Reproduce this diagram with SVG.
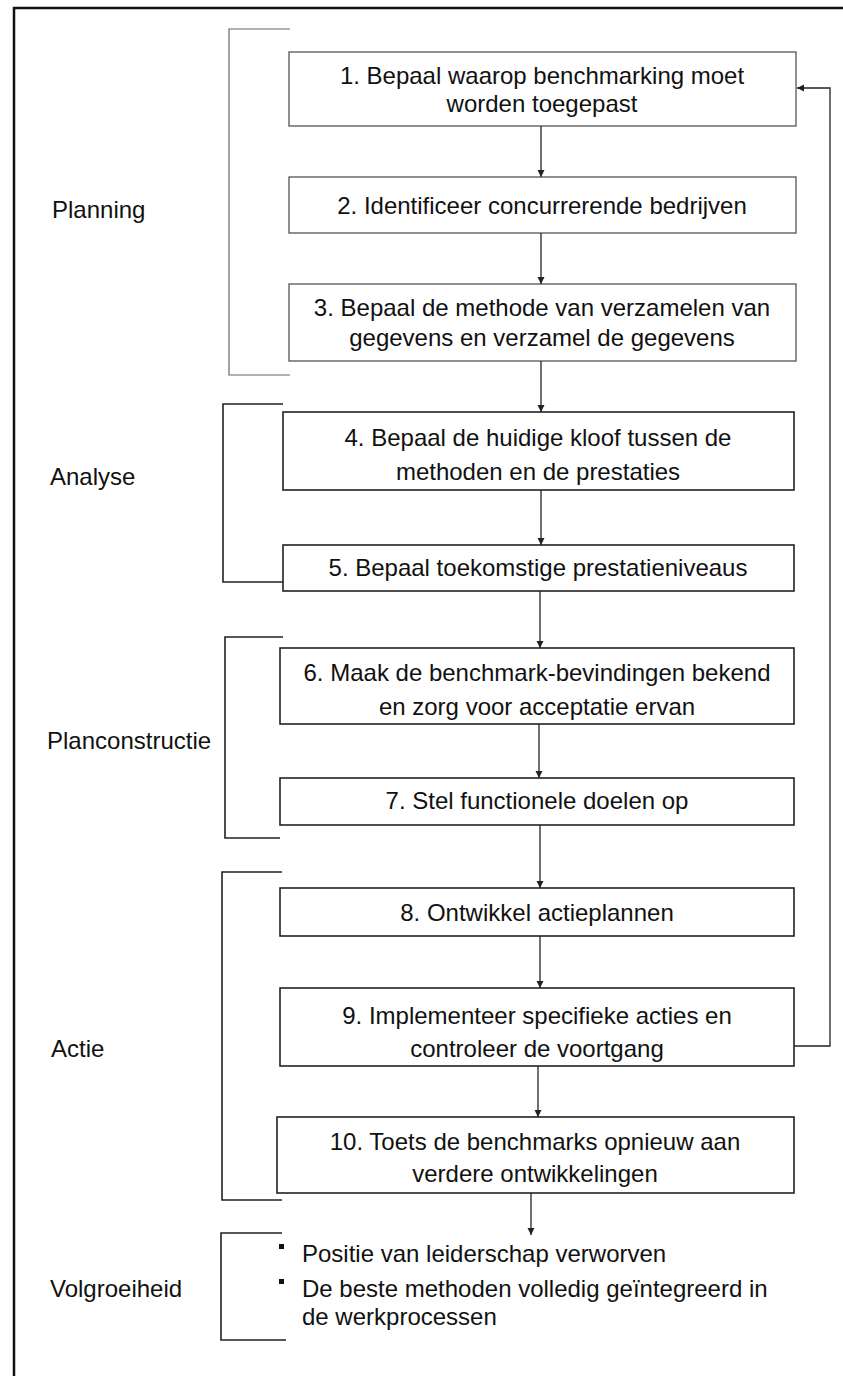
<svg xmlns="http://www.w3.org/2000/svg" width="843" height="1376" viewBox="0 0 843 1376">
  <style>
    text { font-family: "Liberation Sans", Arial, sans-serif; font-size: 24px; fill: #111; }
    .step { text-anchor: middle; }
    .box { fill: #fff; stroke: #222; stroke-width: 1.6; }
    .box.light { stroke: #555; stroke-width: 1.3; }
    .bracket { fill: none; stroke: #222; stroke-width: 1.6; }
    .bracket.light { stroke: #666; stroke-width: 1.2; }
    .conn { fill: none; stroke: #222; stroke-width: 1.3; }
  </style>
  <defs>
    <marker id="arrow" viewBox="0 0 10 10" refX="10" refY="5" markerWidth="7" markerHeight="8" markerUnits="userSpaceOnUse" orient="auto">
      <path d="M0,0 L10,5 L0,10 Z" fill="#222"/>
    </marker>
  </defs>

  <rect width="843" height="1376" fill="#fff"/>

  <!-- outer frame: top and left edges -->
  <path d="M843,8 H14 V1376" fill="none" stroke="#111" stroke-width="2.5"/>

  <!-- phase brackets and labels -->
  <g id="phase-planning">
    <path class="bracket light" d="M290,29 H229 V375 H290"/>
    <text x="52" y="218">Planning</text>
  </g>
  <g id="phase-analyse">
    <path class="bracket" d="M283,404 H223 V582 H283"/>
    <text x="50" y="485">Analyse</text>
  </g>
  <g id="phase-planconstructie">
    <path class="bracket" d="M283,637 H225 V838 H280"/>
    <text x="47" y="749">Planconstructie</text>
  </g>
  <g id="phase-actie">
    <path class="bracket" d="M282,872 H222 V1200 H282"/>
    <text x="51" y="1057">Actie</text>
  </g>
  <g id="phase-volgroeiheid">
    <path class="bracket" d="M282,1233 H221 V1340 H286"/>
    <text x="50" y="1297">Volgroeiheid</text>
  </g>

  <!-- steps -->
  <g id="step1">
    <rect class="box light" x="289" y="52" width="507" height="74"/>
    <text class="step" x="542" y="84">1. Bepaal waarop benchmarking moet</text>
    <text class="step" x="542" y="112">worden toegepast</text>
  </g>
  <g id="step2">
    <rect class="box light" x="289" y="177" width="507" height="56"/>
    <text class="step" x="542" y="214">2. Identificeer concurrerende bedrijven</text>
  </g>
  <g id="step3">
    <rect class="box light" x="289" y="284" width="507" height="77"/>
    <text class="step" x="542" y="316">3. Bepaal de methode van verzamelen van</text>
    <text class="step" x="542" y="346">gegevens en verzamel de gegevens</text>
  </g>
  <g id="step4">
    <rect class="box" x="283" y="412" width="511" height="78"/>
    <text class="step" x="538" y="446">4. Bepaal de huidige kloof tussen de</text>
    <text class="step" x="538" y="480">methoden en de prestaties</text>
  </g>
  <g id="step5">
    <rect class="box" x="283" y="545" width="511" height="46"/>
    <text class="step" x="538" y="576">5. Bepaal toekomstige prestatieniveaus</text>
  </g>
  <g id="step6">
    <rect class="box" x="280" y="648" width="514" height="76"/>
    <text class="step" x="537" y="681">6. Maak de benchmark-bevindingen bekend</text>
    <text class="step" x="537" y="715">en zorg voor acceptatie ervan</text>
  </g>
  <g id="step7">
    <rect class="box" x="280" y="778" width="514" height="47"/>
    <text class="step" x="537" y="809">7. Stel functionele doelen op</text>
  </g>
  <g id="step8">
    <rect class="box" x="280" y="888" width="514" height="48"/>
    <text class="step" x="537" y="921">8. Ontwikkel actieplannen</text>
  </g>
  <g id="step9">
    <rect class="box" x="280" y="988" width="514" height="78"/>
    <text class="step" x="537" y="1024">9. Implementeer specifieke acties en</text>
    <text class="step" x="537" y="1057">controleer de voortgang</text>
  </g>
  <g id="step10">
    <rect class="box" x="277" y="1117" width="517" height="76"/>
    <text class="step" x="535" y="1150">10. Toets de benchmarks opnieuw aan</text>
    <text class="step" x="535" y="1182">verdere ontwikkelingen</text>
  </g>

  <!-- outcome list -->
  <g id="outcome">
    <rect x="279" y="1244" width="5" height="5" fill="#111"/>
    <text x="302" y="1262">Positie van leiderschap verworven</text>
    <rect x="279" y="1279" width="5" height="5" fill="#111"/>
    <text x="302" y="1297">De beste methoden volledig geïntegreerd in</text>
    <text x="302" y="1325">de werkprocessen</text>
  </g>

  <!-- connectors -->
  <g id="connectors">
    <line class="conn" x1="541" y1="126" x2="541" y2="177" marker-end="url(#arrow)"/>
    <line class="conn" x1="541" y1="233" x2="541" y2="284" marker-end="url(#arrow)"/>
    <line class="conn" x1="541" y1="361" x2="541" y2="412" marker-end="url(#arrow)"/>
    <line class="conn" x1="541" y1="490" x2="541" y2="545" marker-end="url(#arrow)"/>
    <line class="conn" x1="540" y1="591" x2="540" y2="648" marker-end="url(#arrow)"/>
    <line class="conn" x1="539" y1="724" x2="539" y2="778" marker-end="url(#arrow)"/>
    <line class="conn" x1="540" y1="825" x2="540" y2="888" marker-end="url(#arrow)"/>
    <line class="conn" x1="540" y1="936" x2="540" y2="988" marker-end="url(#arrow)"/>
    <line class="conn" x1="538" y1="1066" x2="538" y2="1117" marker-end="url(#arrow)"/>
    <line class="conn" x1="531" y1="1193" x2="531" y2="1235" marker-end="url(#arrow)"/>
    <!-- feedback loop from step 9 back to step 1 -->
    <path class="conn" d="M794,1046 H830 V88 H797" marker-end="url(#arrow)"/>
  </g>
</svg>
